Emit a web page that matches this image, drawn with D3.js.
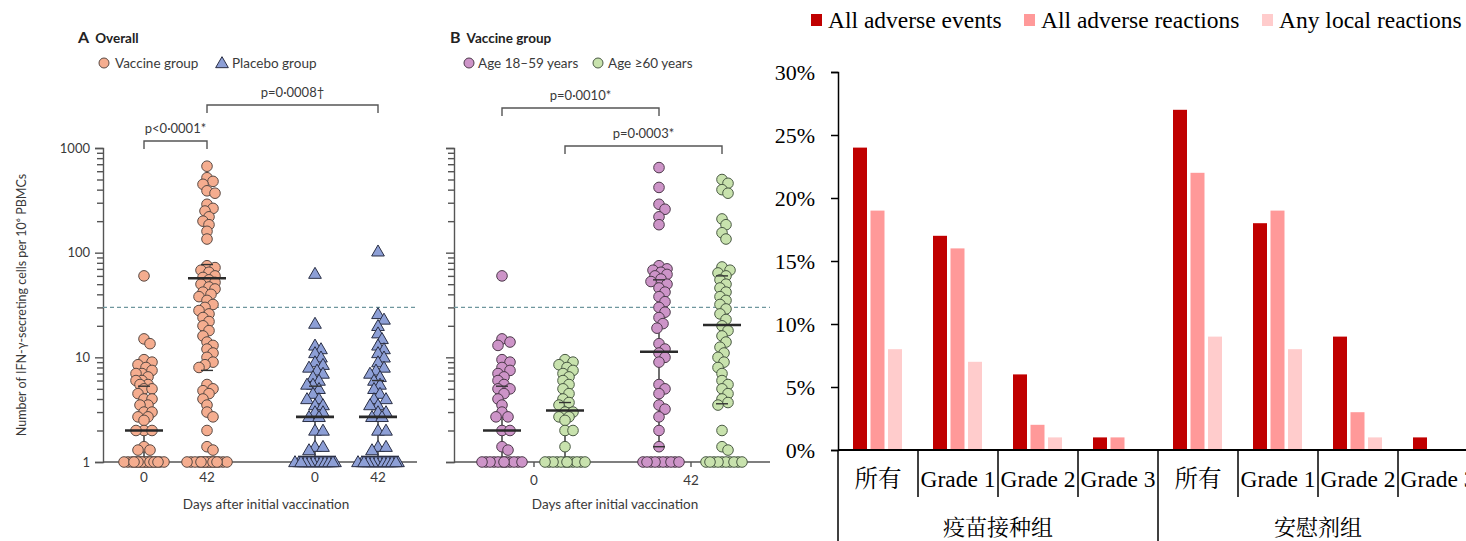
<!DOCTYPE html>
<html>
<head>
<meta charset="utf-8">
<script src="https://cdn.jsdelivr.net/npm/d3@7"></script>
<style>
  body { margin: 0; background: #fff; }
  svg { display: block; }
</style>
</head>
<body>
<svg id="chart" width="1466" height="541"></svg>
<script>
// ---- panel A / B: IFN-gamma ELISpot, values per participant
const vaccineDay0 = [60, 15, 13.5, 9.5, 9, 8.5, 8, 7.5, 7, 7, 6.5, 6, 6, 5.5, 5.5, 5, 5, 4.5, 4, 4, 3.5, 3.5, 3, 3, 2.7, 2.7, 2.5, 2, 2, 2, 1.4, 1.3, 1.3,
  1, 1, 1, 1, 1, 1, 1, 1, 1, 1, 1, 1, 1, 1, 1, 1, 1, 1];
const vaccineDay42 = [670, 520, 480, 450, 390, 370, 290, 265, 250, 220, 200, 185, 160, 135,
  75, 72, 68, 65, 60, 58, 55, 52, 50, 47, 45, 42, 40, 38, 35, 32, 30, 28, 26, 24, 22, 20, 18, 16, 14, 13, 12, 11, 10, 9, 8.5, 8,
  5.5, 5, 4.8, 4.5, 4, 3.5, 3, 2.7, 2, 1.4, 1.3,
  1, 1, 1, 1, 1, 1, 1, 1, 1, 1, 1, 1, 1, 1, 1, 1];
const placeboDay0 = [63, 21, 13, 12, 11, 10, 9, 8.5, 8, 7.5, 7, 6.5, 6, 5.5, 5.5, 5, 4.5, 4, 4, 3.5, 3.5, 3, 3, 2.7, 2.7, 2, 2, 1.4, 1.4, 1.3,
  1, 1, 1, 1, 1, 1, 1, 1, 1, 1, 1, 1, 1, 1, 1, 1, 1, 1, 1, 1];
const placeboDay42 = [103, 26, 23, 20, 17, 15, 13, 12, 11, 10, 9, 8, 7.5, 7, 6.5, 6, 5.5, 5, 4.5, 4, 4, 3.5, 3.5, 3, 3, 2.7, 2.7, 2, 2, 1.4, 1.4, 1.3,
  1, 1, 1, 1, 1, 1, 1, 1, 1, 1, 1, 1, 1, 1, 1, 1, 1, 1, 1, 1];
const youngDay0 = [60, 15, 14, 13, 9.5, 9, 8, 7.5, 7, 6.5, 6, 5.5, 5, 5, 4.5, 4, 3.5, 3, 2.7, 2.7, 2, 2, 1.4, 1.3,
  1, 1, 1, 1, 1, 1, 1, 1, 1, 1, 1, 1];
const oldDay0 = [9.5, 9, 8.5, 8, 7.5, 7, 6.5, 6, 5.5, 5, 4.5, 4, 3.7, 3.5, 3, 3, 2.7, 2.7, 2.5, 2, 2, 1.4,
  1, 1, 1, 1, 1, 1, 1, 1, 1, 1, 1, 1];
const youngDay42 = [650, 420, 290, 260, 220, 185, 75, 70, 68, 65, 62, 60, 56, 53, 50, 46, 42, 38, 34, 30, 27, 24, 21, 19,
  13.5, 12, 11, 10, 9, 5.5, 5, 4.5, 3.5, 3.2, 2.7, 2, 1.4,
  1, 1, 1, 1, 1, 1, 1, 1, 1, 1];
const oldDay42 = [500, 460, 400, 370, 210, 185, 155, 135, 73, 68, 64, 60, 55, 50, 46, 42, 38, 35, 32, 29, 26, 23, 20, 18, 16, 14,
  12.5, 11, 10, 9, 8, 7, 6, 5.5, 5, 4.5, 4, 3.7, 3.5, 2, 1.4, 1.3,
  1, 1, 1, 1, 1, 1, 1, 1, 1, 1];

// median and IQR per column, in column order
const medianA = [2, 57, 2.7, 2.7];
const q1A = [1, 7.5, 1, 1];
const q3A = [5.3, 77, 5.3, 6];
const medianB = [2, 3.1, 11.3, 20.4];
const q1B = [1, 1, 1.4, 3.6];
const q3B = [5.3, 3.7, 55, 60];

const dayLabels = ["0", "42"];
const groupsA = ["Vaccine group", "Placebo group"];
const groupsB = ["Age 18–59 years", "Age ≥60 years"];
const cutoff = 30;

// ---- right: adverse events bar chart (%)
const barCategories = ["所有", "Grade 1", "Grade 2", "Grade 3", "所有", "Grade 1", "Grade 2", "Grade 3"];
const barGroups = ["疫苗接种组", "安慰剂组"];
const barSeries = ["All adverse events", "All adverse reactions", "Any local reactions"];
const adverseEvents = [24, 17, 6, 1, 27, 18, 9, 1];
const adverseReactions = [19, 16, 2, 1, 22, 19, 3, 0];
const localReactions = [8, 7, 1, 0, 9, 8, 1, 0];
const percentTicks = [0, 5, 10, 15, 20, 25, 30];

const svg = d3.select("#chart");
const sans = "Lato, 'Open Sans', sans-serif";
const serif = "'Liberation Serif', 'Noto Serif CJK SC', 'Noto Sans CJK SC', serif";
const axisColor = "#555";
const textColor = "#3a3a3a";

const y = d3.scaleLog().domain([1, 1000]).range([462, 148]);
const majorTicks = [1, 10, 100, 1000];
const minorTicks = d3.range(0, 3).flatMap((e) => d3.range(2, 10).map((m) => m * Math.pow(10, e)));

function logAxis(g, x0, withLabels) {
  g.attr("transform", `translate(${x0},0)`);
  g.append("g")
    .call(d3.axisLeft(y).tickValues(majorTicks).tickSize(8)
      .tickFormat(withLabels ? d3.format("d") : () => ""))
    .call((a) => a.selectAll("text").attr("font-family", sans).attr("font-size", 13).attr("fill", textColor).attr("dx", -2));
  g.append("g")
    .call(d3.axisLeft(y).tickValues(minorTicks).tickSize(6).tickFormat(() => ""))
    .call((a) => a.select(".domain").remove());
  g.selectAll("line, path").attr("stroke", axisColor).attr("stroke-width", 1.4);
}

// deterministic beeswarm with heavy overlap allowed, narrow columns
function swarm(values, cx, r) {
  const placed = [];
  values.forEach((v) => {
    const py = y(v);
    const maxOff = v === 1 ? 20 : 8;
    const offsets = [0];
    for (let o = 2; o <= maxOff; o += 2) offsets.push(o, -o);
    let best = 0, bestD = -1;
    for (const o of offsets) {
      let md = Infinity;
      placed.forEach((p) => { md = Math.min(md, Math.hypot(p.x - (cx + o), p.y - py)); });
      if (md >= r * 1.25) { best = o; bestD = md; break; }
      if (md > bestD) { bestD = md; best = o; }
    }
    placed.push({ x: cx + best, y: py, v });
  });
  return placed;
}

const triangle = d3.symbol().type(d3.symbolTriangle).size(70);

function column(g, values, cx, shape, fill, stroke, med, lo, hi) {
  g.append("line").attr("x1", cx).attr("x2", cx).attr("y1", y(lo)).attr("y2", y(hi))
    .attr("stroke", "#333").attr("stroke-width", 1.4);
  const pts = swarm(values, cx, 5.5);
  if (shape === "circle") {
    g.append("g").selectAll("circle").data(pts).join("circle")
      .attr("cx", (d) => d.x).attr("cy", (d) => d.y).attr("r", 5.3)
      .attr("fill", fill).attr("stroke", stroke).attr("stroke-width", 1);
  } else {
    g.append("g").selectAll("path").data(pts).join("path")
      .attr("d", triangle).attr("transform", (d) => `translate(${d.x},${d.y + 1})`)
      .attr("fill", fill).attr("stroke", stroke).attr("stroke-width", 1);
  }
  [lo, hi].forEach((q) => {
    if (q > 1) g.append("line").attr("x1", cx - 6).attr("x2", cx + 6).attr("y1", y(q)).attr("y2", y(q))
      .attr("stroke", "#333").attr("stroke-width", 1.4);
  });
  g.append("line").attr("x1", cx - 19).attr("x2", cx + 19).attr("y1", y(med)).attr("y2", y(med))
    .attr("stroke", "#2a2a2a").attr("stroke-width", 2.6);
}

function bracket(g, x1, x2, yTop, label) {
  g.append("path").attr("d", `M${x1},${yTop + 8}V${yTop}H${x2}V${yTop + 8}`)
    .attr("fill", "none").attr("stroke", axisColor).attr("stroke-width", 1.4);
  g.append("text").attr("x", (x1 + x2) / 2).attr("y", yTop - 8).attr("text-anchor", "middle")
    .attr("font-family", sans).attr("font-size", 13).attr("fill", textColor).text(label);
}

function title(g, x0, letter, name) {
  const t = g.append("text").attr("x", x0).attr("y", 43).attr("font-family", sans).attr("fill", "#222").attr("font-weight", "bold");
  t.append("tspan").attr("font-size", 16).text(letter);
  t.append("tspan").attr("font-size", 13.5).attr("dx", 6).text(name);
}

// ======================= Panel A =======================
const gA = svg.append("g");
title(gA, 78, "A", "Overall");
gA.append("circle").attr("cx", 104).attr("cy", 63).attr("r", 5).attr("fill", "#f5ad8f").attr("stroke", "#5a4a44");
gA.append("text").attr("x", 115).attr("y", 68).attr("font-family", sans).attr("font-size", 13.5).attr("fill", textColor).text(groupsA[0]);
gA.append("path").attr("d", triangle).attr("transform", "translate(222,64)").attr("fill", "#8d9fd6").attr("stroke", "#2a2f45");
gA.append("text").attr("x", 232).attr("y", 68).attr("font-family", sans).attr("font-size", 13.5).attr("fill", textColor).text(groupsA[1]);

const xGroupA = d3.scalePoint().domain(groupsA).range([175.5, 346.5]);
const xDayA = d3.scalePoint().domain(dayLabels).range([-31.5, 31.5]);
const colsA = [
  [vaccineDay0, groupsA[0], "0", "circle", "#f5ad8f", "#5a4a44"],
  [vaccineDay42, groupsA[0], "42", "circle", "#f5ad8f", "#5a4a44"],
  [placeboDay0, groupsA[1], "0", "tri", "#8d9fd6", "#2a2f45"],
  [placeboDay42, groupsA[1], "42", "tri", "#8d9fd6", "#2a2f45"],
];

logAxis(gA.append("g"), 103, true);
gA.append("line").attr("x1", 103).attr("x2", 417).attr("y1", y(cutoff)).attr("y2", y(cutoff))
  .attr("stroke", "#6f979e").attr("stroke-width", 1.2).attr("stroke-dasharray", "4,3");
gA.append("line").attr("x1", 103).attr("x2", 417).attr("y1", 462).attr("y2", 462).attr("stroke", axisColor).attr("stroke-width", 1.4);

colsA.forEach((c, i) => {
  const cx = xGroupA(c[1]) + xDayA(c[2]);
  column(gA, c[0], cx, c[3], c[4], c[5], medianA[i], q1A[i], q3A[i]);
  gA.append("text").attr("x", cx).attr("y", 482).attr("text-anchor", "middle")
    .attr("font-family", sans).attr("font-size", 13.5).attr("fill", textColor).text(c[2]);
});
gA.append("text").attr("x", 266).attr("y", 509).attr("text-anchor", "middle")
  .attr("font-family", sans).attr("font-size", 13.5).attr("fill", textColor).text("Days after initial vaccination");
gA.append("text").attr("transform", "translate(26,305) rotate(-90)").attr("text-anchor", "middle")
  .attr("font-family", sans).attr("font-size", 12.5).attr("fill", textColor)
  .text("Number of IFN-γ-secreting cells per 10⁶ PBMCs");
bracket(gA, xGroupA(groupsA[0]) + xDayA("0"), xGroupA(groupsA[0]) + xDayA("42"), 141, "p<0·0001*");
bracket(gA, xGroupA(groupsA[0]) + xDayA("42"), xGroupA(groupsA[1]) + xDayA("42"), 105, "p=0·0008†");

// ======================= Panel B =======================
const gB = svg.append("g");
title(gB, 450, "B", "Vaccine group");
gB.append("circle").attr("cx", 469).attr("cy", 63).attr("r", 5).attr("fill", "#cd94c8").attr("stroke", "#4d3a4b");
gB.append("text").attr("x", 478).attr("y", 68).attr("font-family", sans).attr("font-size", 13.5).attr("fill", textColor).text(groupsB[0]);
gB.append("circle").attr("cx", 598).attr("cy", 63).attr("r", 5).attr("fill", "#c8e2ad").attr("stroke", "#4a5a44");
gB.append("text").attr("x", 608).attr("y", 68).attr("font-family", sans).attr("font-size", 13.5).attr("fill", textColor).text(groupsB[1]);

const xDayB = d3.scalePoint().domain(dayLabels).range([533.5, 690.5]);
const xAgeB = d3.scalePoint().domain(groupsB).range([-31.5, 31.5]);
const colsB = [
  [youngDay0, groupsB[0], "0", "#cd94c8", "#4d3a4b"],
  [oldDay0, groupsB[1], "0", "#c8e2ad", "#4a5a44"],
  [youngDay42, groupsB[0], "42", "#cd94c8", "#4d3a4b"],
  [oldDay42, groupsB[1], "42", "#c8e2ad", "#4a5a44"],
];

logAxis(gB.append("g"), 454, false);
gB.append("line").attr("x1", 454).attr("x2", 770).attr("y1", y(cutoff)).attr("y2", y(cutoff))
  .attr("stroke", "#6f979e").attr("stroke-width", 1.2).attr("stroke-dasharray", "4,3");
gB.append("g").attr("transform", "translate(0,462)")
  .call(d3.axisBottom(xDayB).tickSize(5).tickPadding(6))
  .call((a) => a.select(".domain").remove())
  .call((a) => a.selectAll("line").attr("stroke", axisColor).attr("stroke-width", 1.4))
  .call((a) => a.selectAll("text").attr("font-family", sans).attr("font-size", 13.5).attr("fill", textColor).attr("dy", "0.9em"));
gB.append("line").attr("x1", 454).attr("x2", 770).attr("y1", 462).attr("y2", 462).attr("stroke", axisColor).attr("stroke-width", 1.4);

colsB.forEach((c, i) => {
  const cx = xDayB(c[2]) + xAgeB(c[1]);
  column(gB, c[0], cx, "circle", c[3], c[4], medianB[i], q1B[i], q3B[i]);
});
gB.append("text").attr("x", 615).attr("y", 509).attr("text-anchor", "middle")
  .attr("font-family", sans).attr("font-size", 13.5).attr("fill", textColor).text("Days after initial vaccination");
const colX = (i) => xDayB(colsB[i][2]) + xAgeB(colsB[i][1]);
bracket(gB, colX(0), colX(2), 108, "p=0·0010*");
bracket(gB, colX(1), colX(3), 146, "p=0·0003*");

// ======================= Bar chart =======================
const gC = svg.append("g");
const barColors = ["#c00000", "#ff9999", "#ffcccc"];
const seriesValues = [adverseEvents, adverseReactions, localReactions];
const x0 = 838, catW = 80;
const xCat = d3.scaleBand().domain(d3.range(barCategories.length)).range([x0, x0 + catW * barCategories.length]);
const xSer = d3.scaleBand().domain(barSeries).range([15, 64]).paddingInner(0.2);
const yBar = d3.scaleLinear().domain([0, 30]).range([450, 72]);

// legend
const legX = [811, 1024, 1262];
barSeries.forEach((s, i) => {
  gC.append("rect").attr("x", legX[i]).attr("y", 14).attr("width", 11).attr("height", 12).attr("fill", barColors[i]);
  gC.append("text").attr("x", legX[i] + 17).attr("y", 28).attr("font-family", serif).attr("font-size", 23.5)
    .attr("fill", "#000").text(s);
});

// y axis
gC.append("g").attr("transform", `translate(${x0},0)`)
  .call(d3.axisLeft(yBar).tickValues(percentTicks).tickSize(7).tickPadding(16).tickFormat((d) => d + "%"))
  .call((a) => a.selectAll("line, path").attr("stroke", "#000").attr("stroke-width", 1.5))
  .call((a) => a.selectAll("text").attr("font-family", serif).attr("font-size", 22).attr("fill", "#000"));

// bars
barSeries.forEach((s, si) => {
  gC.append("g").selectAll("rect").data(seriesValues[si]).join("rect")
    .attr("x", (d, i) => xCat(i) + xSer(s))
    .attr("width", xSer.bandwidth())
    .attr("y", (d) => yBar(d))
    .attr("height", (d) => yBar(0) - yBar(d))
    .attr("fill", barColors[si]);
});

// x axis with category and group labels
gC.append("line").attr("x1", x0).attr("x2", 1466).attr("y1", 450).attr("y2", 450).attr("stroke", "#000").attr("stroke-width", 2);
d3.range(barCategories.length + 1).forEach((i) => {
  const xx = x0 + catW * i;
  const full = i % 4 === 0;
  gC.append("line").attr("x1", xx).attr("x2", xx).attr("y1", 450).attr("y2", full ? 541 : 497)
    .attr("stroke", "#000").attr("stroke-width", 1.5);
});
barCategories.forEach((c, i) => {
  gC.append("text").attr("x", xCat(i) + catW / 2).attr("y", 487).attr("text-anchor", "middle")
    .attr("font-family", serif).attr("font-size", 23.5).attr("fill", "#000").text(c);
});
barGroups.forEach((g, i) => {
  gC.append("text").attr("x", x0 + catW * 4 * i + catW * 2).attr("y", 535).attr("text-anchor", "middle")
    .attr("font-family", serif).attr("font-size", 22).attr("fill", "#000").text(g);
});
</script>
</body>
</html>
